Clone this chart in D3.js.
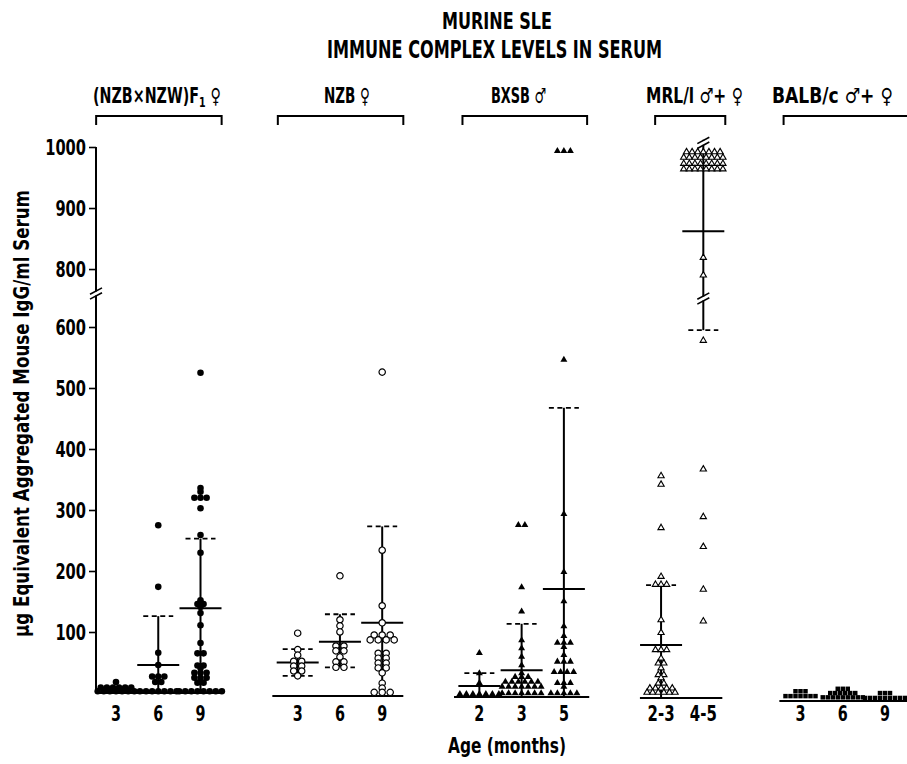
<!DOCTYPE html>
<html><head><meta charset="utf-8">
<script src="https://cdn.jsdelivr.net/npm/d3@7"></script>
<style>body{margin:0;background:#fff}</style>
</head><body>
<svg id="c" width="907" height="764"></svg>
<script>
// ---------------- data ----------------
const titleLines = ["MURINE SLE", "IMMUNE COMPLEX LEVELS IN SERUM"];
const strains = ["(NZB×NZW)F", "NZB ♀", "BXSB ♂", "MRL/l ♂+ ♀", "BALB/c ♂+ ♀"];
const ageLabels = [["3","6","9"],["3","6","9"],["2","3","5"],["2-3","4-5"],["3","6","9"]];
const yTicksLower = [100,200,300,400,500,600];
const yTicksUpper = [800,900,1000];
const yLabel = "μg Equivalent Aggregated Mouse IgG/ml Serum";
const xLabel = "Age (months)";

// (NZB×NZW)F1 female
const f1_3 = [18, 9,9,9,9,9,9, 3,3,3,3,3,3,3];
const f1_6 = [275, 174, 66, 46, 27,27,27, 18,18, 3,3,3,3,3,3,3];
const f1_9 = [525, 336, 330, 320,320,320, 303, 259, 230, 152, 146,146, 141, 131, 111, 82, 65,65, 45,45, 41, 33,33,33, 25,25,25, 17,17, 3,3,3,3,3,3,3,3];
// NZB female
const nzb_3 = [103, 76, 67, 57,57, 49,49, 41,41, 33];
const nzb_6 = [197, 125, 115, 105, 82,82, 74,74, 64, 56,56, 47,47];
const nzb_9 = [531, 239, 148, 120, 100,100,100, 92,92,92,92, 70,70, 62,62, 54,54, 46,46, 38, 21, 13, 6,6,6];
// BXSB male
const bx_2 = [72, 39, 23, 5,5,5,5,5,5,5];
const bx_3 = [282,282, 180, 140, 93, 80, 66, 52, 39, 33,33,33, 25,25,25,25,25,25, 17,17,17,17,17,17,17, 6,6,6,6,6,6,6];
const bx_5 = [1000,1000,1000, 553, 300, 205, 157, 116, 100, 89,89,89, 82, 69, 58,58,58, 41,41,41,41, 23,23,23, 17, 6,6,6,6,6];
// MRL/l male + female
const mrl_23 = [364, 350, 279, 199, 186,186,186, 128, 107, 79,79,79, 65, 57,57, 49, 38,38, 33, 24,24, 16,16,16,16,16, 9,9,9,9,9,9];
const mrl_45 = [1000,1000,1000,1000,1000,1000,1000, 991,991,991,991,991,991,991,991, 981,981,981,981,981,981,981,981, 972,972,972,972,972,972,972,972, 827, 798, 586, 375, 297, 248, 178, 126];
// BALB/c male + female
const balb_3 = [16,16,16, 8,8,8,8,8,8,8];
const balb_6 = [20,20,20, 13,13,13,13,13,13, 6,6,6,6,6,6,6,6,6];
const balb_9 = [13,13,13, 5,5,5,5,5,5,5,5,5];

const series = [[f1_3,f1_6,f1_9],[nzb_3,nzb_6,nzb_9],[bx_2,bx_3,bx_5],[mrl_23,mrl_45],[balb_3,balb_6,balb_9]];
const means   = [[null,46,139],[55,89,120],[18,44,177],[87,870],[null,null,null]];
const sdUpper = [[null,126,253],[77,134,278],[39,120,474],[185,null],[null,null,null]];
const sdLower = [[null,null,null],[33,47,null],[null,null,null],[null,603],[null,null,null]];

// ---------------- layout / style ----------------
const FONT = "'Liberation Sans Narrow','Arial Narrow','DejaVu Sans Condensed',sans-serif";
const svg = d3.select("#c");
const groupShift = [0,3,4,5,8];                 // slight skew of the scanned panels
const basePad = [[-0.47,0.5],[-0.6,0.5],[-0.6,0.6],[-0.5,0.45],[-0.5,0.55]];
const bracketPad = [[-0.47,0.5],[-0.47,0.5],[-0.4,0.55],[-0.14,0.52],[-0.4,0.6]];
const spacing = [6.1, 8, 6.5, 5.6, 5];
const markers = [
  {type:d3.symbolCircle,   size:34, fill:"#000", stroke:"none", sw:0},
  {type:d3.symbolCircle,   size:32, fill:"#fff", stroke:"#000", sw:1.2},
  {type:d3.symbolTriangle, size:21, fill:"#000", stroke:"none", sw:0},
  {type:d3.symbolTriangle, size:17, fill:"#fff", stroke:"#000", sw:1.1},
  {type:d3.symbolSquare,   size:20, fill:"#000", stroke:"none", sw:0}
];

const colStart = []; let acc = 0;
series.forEach(g => { colStart.push(acc); acc += g.length + 1.3; });
const x = d3.scaleLinear().domain([0, acc - 2.3]).range([116, 885]);

const yLow = d3.scaleLinear().domain([0,650]).range([693,296.5]);
const yUp  = d3.scaleLinear().domain([765,1000]).range([290.4,147]);
const y = v => v >= 700 ? yUp(v) : yLow(v);
const breakY = 293.5;

function breakMark(sel, cx, yc) {
  sel.append("rect").attr("x", cx-4).attr("y", yc-2).attr("width", 8).attr("height", 4).attr("fill", "#fff");
  [-2.4, 2.4].forEach(o => sel.append("line")
    .attr("x1", cx-6).attr("y1", yc+o+3.2).attr("x2", cx+6).attr("y2", yc+o-3.2)
    .attr("stroke", "#000").attr("stroke-width", 1.6));
}

// ---------------- title ----------------
svg.append("text").attr("x", 497).attr("y", 28.5).attr("text-anchor","middle")
  .attr("font-family", FONT).attr("font-weight","bold").attr("font-size", 23)
  .attr("textLength", 110).attr("lengthAdjust","spacingAndGlyphs").text(titleLines[0]);
svg.append("text").attr("x", 494.5).attr("y", 58).attr("text-anchor","middle")
  .attr("font-family", FONT).attr("font-weight","bold").attr("font-size", 24)
  .attr("textLength", 335).attr("lengthAdjust","spacingAndGlyphs").text(titleLines[1]);

// ---------------- strain headers and brackets ----------------
const labelCx  = [157, 347, 518.5, 694.5, 832.5];
const labelLen = [128, 46, 55, 97, 121];
strains.forEach((s, i) => {
  if (i === 0) {
    // natural layout (subscript 1 + female sign), squeezed horizontally as a whole
    const t = svg.append("text").attr("text-anchor","middle")
      .attr("font-family", FONT).attr("font-weight","bold").attr("font-size", 21);
    t.append("tspan").text(s);
    t.append("tspan").attr("font-size", 14).attr("dy", 4).text("1");
    t.append("tspan").attr("dy", -4).text(" ♀");
    const w = t.node().getComputedTextLength() || labelLen[0];
    t.attr("transform", `translate(${labelCx[0]},103) scale(${labelLen[0] / w},1)`);
  } else {
    svg.append("text").attr("x", labelCx[i]).attr("y", 103).attr("text-anchor","middle")
      .attr("font-family", FONT).attr("font-weight","bold").attr("font-size", 21)
      .attr("textLength", labelLen[i]).attr("lengthAdjust","spacingAndGlyphs").text(s);
  }
  const n = series[i].length;
  const xl = x(colStart[i] + bracketPad[i][0]), xr = x(colStart[i] + n - 1 + bracketPad[i][1]);
  svg.append("path").attr("d", `M${xl},125V116H${xr}V125`).attr("fill","none")
    .attr("stroke","#000").attr("stroke-width", 2);
});

// ---------------- y axis ----------------
const fmt = d3.format("d");
const axLow = svg.append("g").attr("transform","translate(96,0)")
  .call(d3.axisLeft(yLow).tickValues(yTicksLower).tickFormat(fmt).tickSize(7).tickSizeOuter(0).tickPadding(3));
const axUp = svg.append("g").attr("transform","translate(96,0)")
  .call(d3.axisLeft(yUp).tickValues(yTicksUpper).tickFormat(fmt).tickSize(7).tickSizeOuter(0).tickPadding(3));
[axLow, axUp].forEach(a => {
  a.select(".domain").remove();
  a.selectAll(".tick line").attr("stroke","#000").attr("stroke-width",1.6);
  a.selectAll(".tick text").attr("font-family", FONT).attr("font-weight","bold")
    .attr("font-size", 22).attr("fill","#000")
    .attr("textLength", function(){ return this.textContent.length * 10.2; })
    .attr("lengthAdjust","spacingAndGlyphs");
});
svg.append("line").attr("x1",96).attr("x2",96).attr("y1",y(1000)).attr("y2",y(0))
  .attr("stroke","#000").attr("stroke-width",2);
breakMark(svg, 96, breakY);

svg.append("text").attr("transform","translate(29,413.5) rotate(-90)").attr("text-anchor","middle")
  .attr("font-family", FONT).attr("font-weight","bold").attr("font-size", 22)
  .attr("textLength", 447).attr("lengthAdjust","spacingAndGlyphs").text(yLabel);

// ---------------- panels ----------------
series.forEach((cols, gi) => {
  const g = svg.append("g").attr("transform", `translate(0,${groupShift[gi]})`);
  const bx0 = x(colStart[gi] + basePad[gi][0]);
  const bx1 = x(colStart[gi] + cols.length - 1 + basePad[gi][1]);
  g.append("line").attr("x1",bx0).attr("x2",bx1).attr("y1",y(0)).attr("y2",y(0))
    .attr("stroke","#000").attr("stroke-width",1.8);

  cols.forEach((vals, ci) => {
    const cx = x(colStart[gi] + ci);
    const m = means[gi][ci];
    if (m != null) {
      const lo = sdLower[gi][ci] ?? 0;
      const hi = sdUpper[gi][ci] ?? 1020;
      g.append("line").attr("x1",cx).attr("x2",cx).attr("y1",y(lo)).attr("y2",y(hi))
        .attr("stroke","#000").attr("stroke-width",2);
      if (lo < 700 && hi > 700) breakMark(g, cx, breakY);
      if (sdUpper[gi][ci] == null) breakMark(g, cx, y(1015));
      g.append("line").attr("x1",cx-21).attr("x2",cx+21).attr("y1",y(m)).attr("y2",y(m))
        .attr("stroke","#000").attr("stroke-width",2);
      [sdUpper[gi][ci], sdLower[gi][ci]].forEach(s => {
        if (s == null) return;
        g.append("line").attr("x1",cx-15).attr("x2",cx+15).attr("y1",y(s)).attr("y2",y(s))
          .attr("stroke","#000").attr("stroke-width",1.8).attr("stroke-dasharray","5,3.5");
      });
    }
    // dot-plot rows: identical values laid side by side, centred on the column
    const pts = [];
    for (const [v, arr] of d3.group(vals, d => d)) {
      arr.forEach((_, i) => pts.push({v, x: cx + (i - (arr.length - 1) / 2) * spacing[gi]}));
    }
    const mk = markers[gi];
    const sym = d3.symbol().type(mk.type).size(mk.size);
    g.selectAll(null).data(pts).join("path")
      .attr("d", sym)
      .attr("transform", d => `translate(${d.x},${y(d.v)})`)
      .attr("fill", mk.fill).attr("stroke", mk.stroke).attr("stroke-width", mk.sw);
  });

  ageLabels[gi].forEach((lab, ci) => {
    svg.append("text").attr("x", x(colStart[gi] + ci)).attr("y", 721).attr("text-anchor","middle")
      .attr("font-family", FONT).attr("font-weight","bold").attr("font-size", 21)
      .attr("textLength", lab.replace(/-/g,"").length * 10 + (lab.includes("-") ? 7 : 0))
      .attr("lengthAdjust","spacingAndGlyphs").text(lab);
  });
});

svg.append("text").attr("x", 507).attr("y", 753).attr("text-anchor","middle")
  .attr("font-family", FONT).attr("font-weight","bold").attr("font-size", 22)
  .attr("textLength", 118).attr("lengthAdjust","spacingAndGlyphs").text(xLabel);
</script>
</body></html>
